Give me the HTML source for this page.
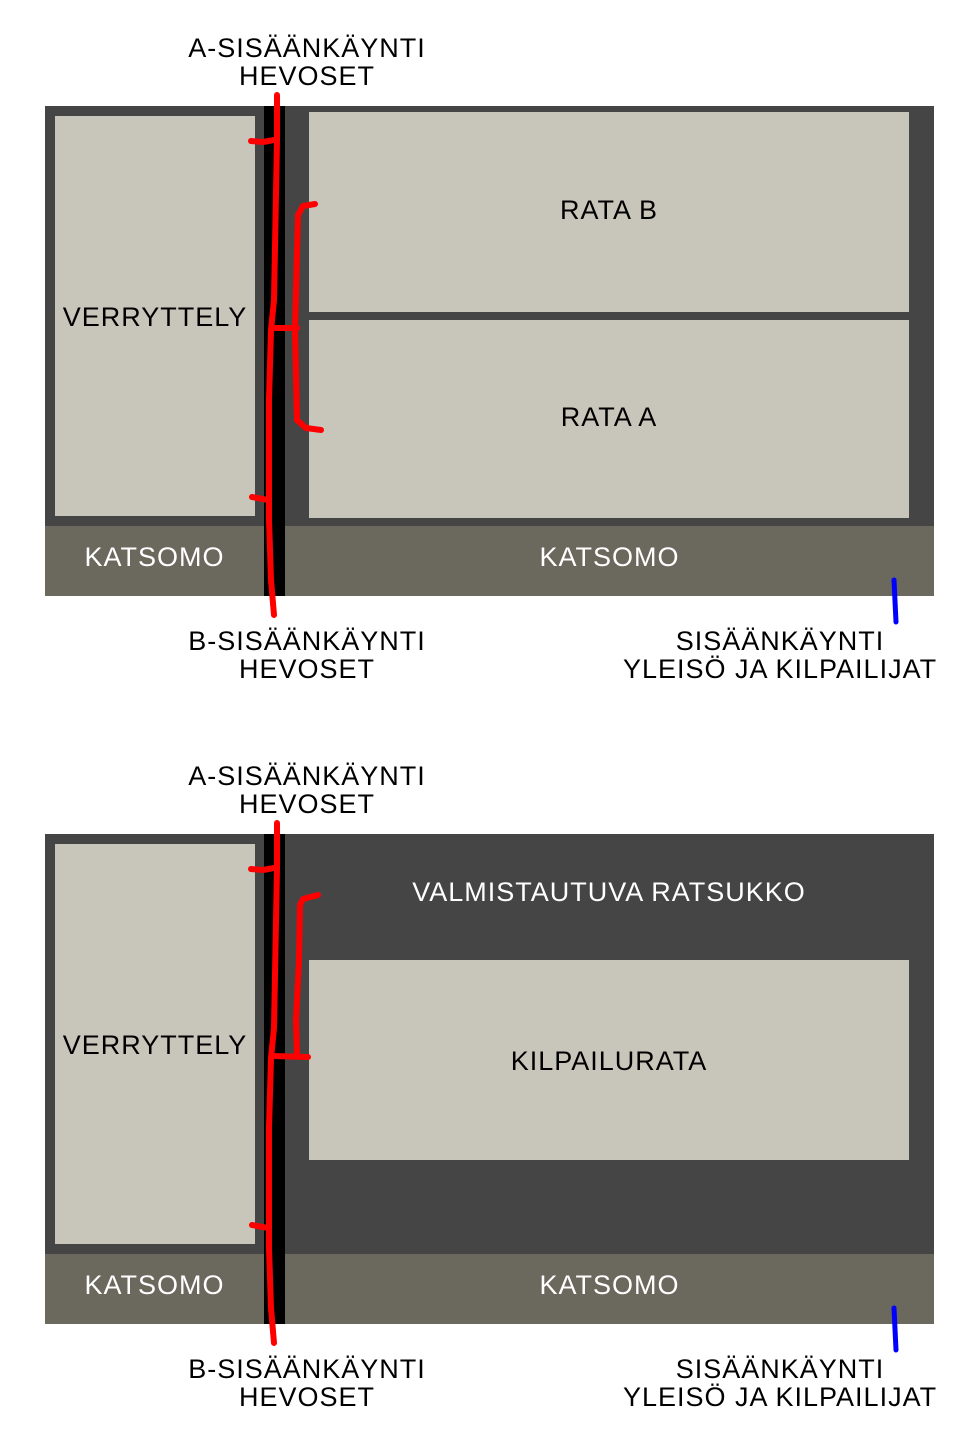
<!DOCTYPE html>
<html><head><style>
body{margin:0;background:#fff;width:979px;height:1453px;position:relative;overflow:hidden;font-family:"Liberation Sans",sans-serif}
.t{position:absolute;font-size:27px;text-align:center;line-height:28px;color:#000;letter-spacing:1px}
.w{color:#fff}
</style></head><body>
<svg width="979" height="1453" style="position:absolute;left:0;top:0">
<g id="d1">
<rect x="45" y="106" width="889" height="490" fill="#454545"/>
<rect x="55" y="116" width="200" height="400" fill="#c8c6bb"/>
<rect x="309" y="112" width="600" height="200" fill="#c8c6bb"/>
<rect x="309" y="320" width="600" height="198" fill="#c8c6bb"/>
<rect x="45" y="526" width="889" height="70" fill="#6b685d"/>
<rect x="264" y="106" width="21" height="490" fill="#000"/>
<g fill="none" stroke="#f00" stroke-width="6" stroke-linecap="round" stroke-linejoin="round">
<polyline points="277,95 277,140 274,300 271,330 269,400 269,520 271,580 274,615"/>
<polyline points="251,141 263,142 274,140"/>
<polyline points="252,497 268,500"/>
<polyline points="315,204 303,206 298,215 295,330 297,420 306,428 321,430"/>
<polyline points="273,328 297,328"/>
</g>
<line x1="894" y1="580" x2="896" y2="622" stroke="#00f" stroke-width="5" stroke-linecap="round"/>
</g>
<g>
<rect x="45" y="834" width="889" height="490" fill="#454545"/>
<rect x="55" y="844" width="200" height="400" fill="#c8c6bb"/>
<rect x="309" y="960" width="600" height="200" fill="#c8c6bb"/>
<rect x="45" y="1254" width="889" height="70" fill="#6b685d"/>
<rect x="264" y="834" width="21" height="490" fill="#000"/>
<g fill="none" stroke="#f00" stroke-width="6" stroke-linecap="round" stroke-linejoin="round">
<polyline points="277,823 277,868 274,1028 271,1058 269,1128 269,1248 271,1308 274,1343"/>
<polyline points="251,869 263,870 274,868"/>
<polyline points="252,1225 268,1228"/>
<polyline points="318,895 303,899 300,905 299,960 296,1020 297,1055"/>
<polyline points="273,1056 308,1057"/>
</g>
<line x1="894" y1="1308" x2="896" y2="1350" stroke="#00f" stroke-width="5" stroke-linecap="round"/>
</g>
</svg>
<div class="t" style="left:157px;width:300px;top:34px">A-SISÄÄNKÄYNTI<br>HEVOSET</div>
<div class="t" style="left:55px;width:200px;top:303px">VERRYTTELY</div>
<div class="t" style="left:309px;width:600px;top:196px">RATA B</div>
<div class="t" style="left:309px;width:600px;top:403px">RATA A</div>
<div class="t w" style="left:45px;width:219px;top:543px">KATSOMO</div>
<div class="t w" style="left:285px;width:649px;top:543px">KATSOMO</div>
<div class="t" style="left:157px;width:300px;top:627px">B-SISÄÄNKÄYNTI<br>HEVOSET</div>
<div class="t" style="left:600px;width:360px;top:627px">SISÄÄNKÄYNTI<br>YLEISÖ JA KILPAILIJAT</div>

<div class="t" style="left:157px;width:300px;top:762px">A-SISÄÄNKÄYNTI<br>HEVOSET</div>
<div class="t" style="left:55px;width:200px;top:1031px">VERRYTTELY</div>
<div class="t w" style="left:309px;width:600px;top:878px">VALMISTAUTUVA RATSUKKO</div>
<div class="t" style="left:309px;width:600px;top:1047px">KILPAILURATA</div>
<div class="t w" style="left:45px;width:219px;top:1271px">KATSOMO</div>
<div class="t w" style="left:285px;width:649px;top:1271px">KATSOMO</div>
<div class="t" style="left:157px;width:300px;top:1355px">B-SISÄÄNKÄYNTI<br>HEVOSET</div>
<div class="t" style="left:600px;width:360px;top:1355px">SISÄÄNKÄYNTI<br>YLEISÖ JA KILPAILIJAT</div>
</body></html>
